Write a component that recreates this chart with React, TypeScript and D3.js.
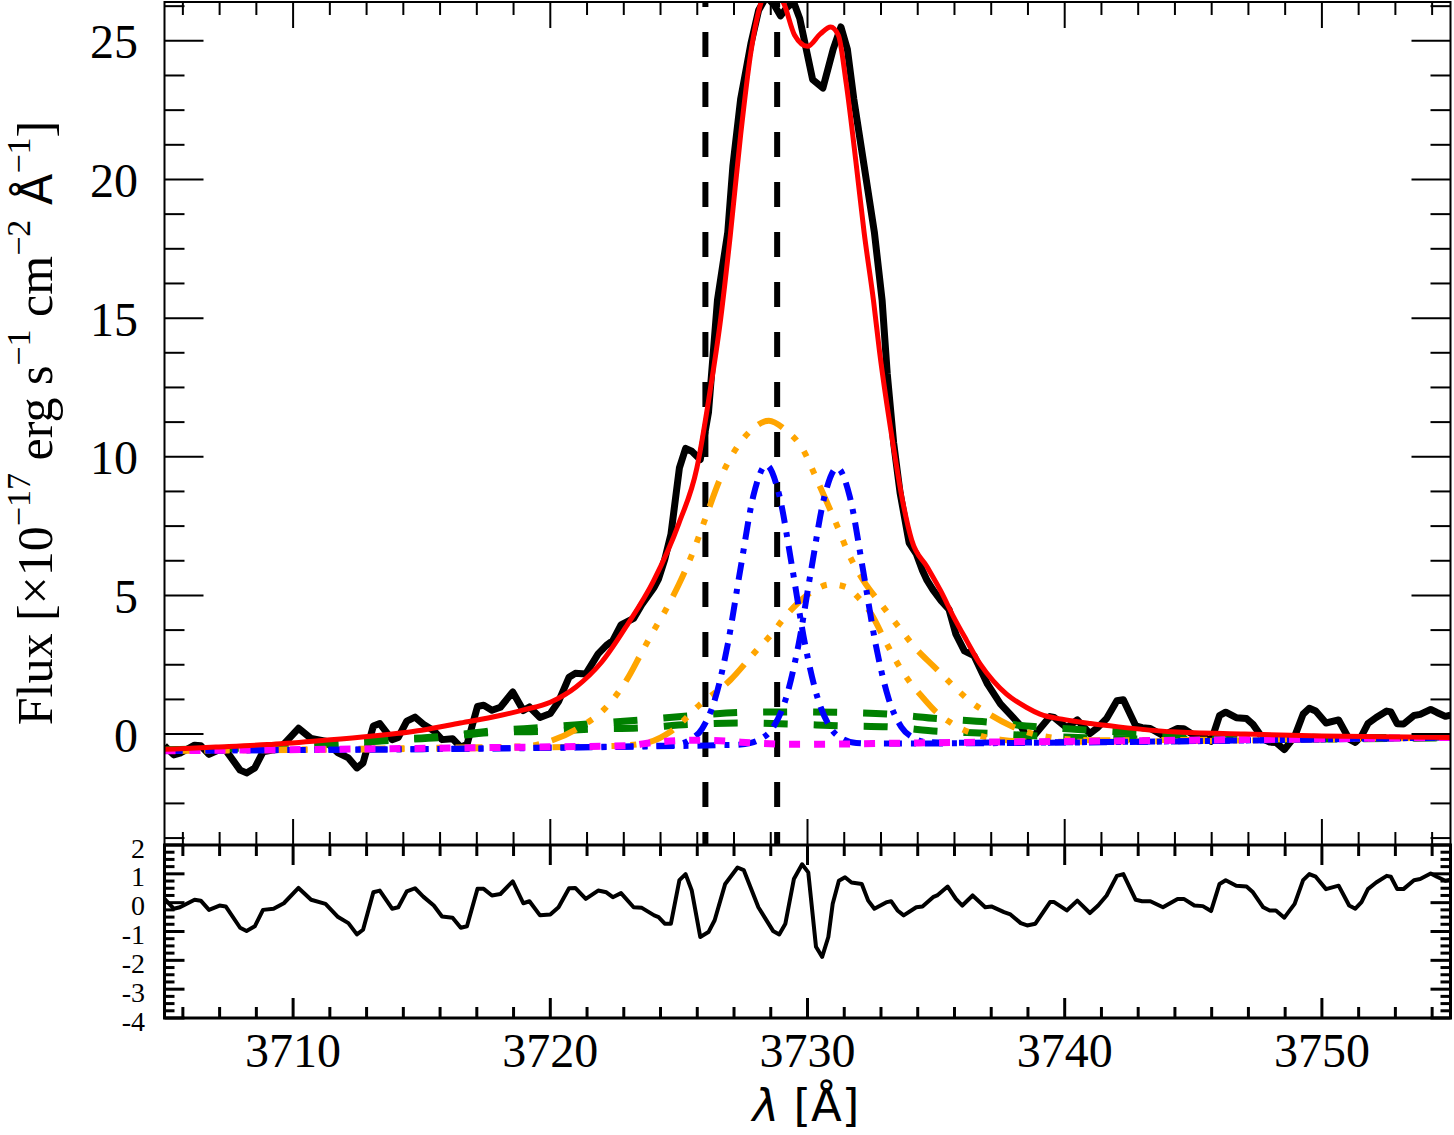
import * as d3 from "d3";

type Pt = [number, number];

// observed spectrum [wavelength (A), flux (1e-17 erg/s/cm2/A)]
const OBS: Pt[] = [
  [3705.0, -0.42], [3705.36, -0.75], [3705.6, -0.69], [3706.17, -0.4], [3706.41, -0.42],
  [3706.73, -0.73], [3707.14, -0.56], [3707.38, -0.58], [3707.94, -1.3], [3708.19, -1.4],
  [3708.51, -1.22], [3708.83, -0.64], [3709.24, -0.57], [3709.64, -0.36], [3710.21, 0.21],
  [3710.7, -0.16], [3711.26, -0.26], [3711.75, -0.68], [3712.15, -0.86], [3712.48, -1.22],
  [3712.72, -1.04], [3713.12, 0.29], [3713.37, 0.38], [3713.85, -0.2], [3714.09, -0.12],
  [3714.42, 0.47], [3714.74, 0.61], [3715.06, 0.36], [3715.47, 0.12], [3715.79, -0.2],
  [3716.2, -0.17], [3716.52, -0.47], [3716.76, -0.38], [3717.17, 1.0], [3717.41, 1.04],
  [3717.73, 0.86], [3718.06, 0.97], [3718.54, 1.52], [3718.95, 0.85], [3719.19, 0.98],
  [3719.6, 0.6], [3720.0, 0.74], [3720.32, 1.17], [3720.73, 2.05], [3720.97, 2.19],
  [3721.38, 2.17], [3721.86, 2.89], [3722.18, 3.2], [3722.43, 3.37], [3722.75, 3.94],
  [3723.24, 4.17], [3723.56, 4.67], [3724.04, 5.3], [3724.21, 5.6], [3724.45, 6.3],
  [3724.69, 7.2], [3725.02, 9.6], [3725.26, 10.3], [3725.5, 10.2], [3725.83, 9.9],
  [3726.15, 11.6], [3726.5, 15.65], [3726.9, 18.1], [3727.1, 20.5], [3727.4, 22.9],
  [3727.8, 24.9], [3728.1, 26.1], [3728.4, 26.6], [3728.7, 26.3], [3728.95, 25.9],
  [3729.2, 26.2], [3729.46, 26.4], [3729.7, 25.8], [3730.2, 23.6], [3730.6, 23.3],
  [3731.0, 24.7], [3731.3, 25.5], [3731.55, 24.7], [3731.8, 22.9], [3732.2, 20.5],
  [3732.6, 18.1], [3732.9, 15.65], [3733.1, 13.0], [3733.35, 10.5], [3733.6, 8.7],
  [3733.95, 6.9], [3734.23, 6.5], [3734.47, 5.9], [3734.65, 5.54], [3734.88, 5.2],
  [3735.2, 4.8], [3735.5, 4.5], [3735.77, 3.6], [3736.1, 3.0], [3736.47, 2.83],
  [3737.0, 1.8], [3737.5, 1.09], [3738.0, 0.59], [3738.29, 0.3], [3738.55, -0.13],
  [3738.86, 0.0], [3739.43, 0.63], [3739.59, 0.6], [3740.08, 0.23], [3740.49, 0.51],
  [3740.98, 0.02], [3741.3, 0.25], [3741.63, 0.56], [3742.03, 1.2], [3742.28, 1.24],
  [3742.76, 0.3], [3743.01, 0.23], [3743.33, 0.2], [3743.82, -0.05], [3744.39, 0.2],
  [3744.63, 0.19], [3745.04, -0.05], [3745.37, -0.08], [3745.69, -0.26], [3746.02, 0.67],
  [3746.26, 0.79], [3746.67, 0.59], [3747.07, 0.56], [3747.32, 0.35], [3747.72, -0.18],
  [3747.97, -0.29], [3748.21, -0.3], [3748.54, -0.56], [3748.94, -0.09], [3749.27, 0.72],
  [3749.51, 0.93], [3749.76, 0.83], [3750.16, 0.4], [3750.65, 0.51], [3751.06, -0.18],
  [3751.3, -0.3], [3751.54, -0.07], [3751.79, 0.38], [3752.11, 0.6], [3752.52, 0.83],
  [3752.68, 0.8], [3752.93, 0.37], [3753.17, 0.36], [3753.58, 0.67], [3753.82, 0.71],
  [3754.23, 0.89], [3754.47, 0.78], [3754.8, 0.64], [3755.0, 0.68],
];

// residuals shown in the lower panel
const RESID: Pt[] = [
  [3705.0, 0.13], [3705.36, -0.21], [3705.6, -0.16], [3706.17, 0.1], [3706.41, 0.07],
  [3706.73, -0.25], [3707.14, -0.1], [3707.38, -0.13], [3707.94, -0.87], [3708.19, -0.98],
  [3708.51, -0.82], [3708.83, -0.25], [3709.24, -0.21], [3709.64, -0.02], [3710.21, 0.51],
  [3710.7, 0.1], [3711.26, -0.04], [3711.75, -0.5], [3712.15, -0.71], [3712.48, -1.1],
  [3712.72, -0.94], [3713.12, 0.36], [3713.37, 0.42], [3713.85, -0.21], [3714.09, -0.16],
  [3714.42, 0.39], [3714.74, 0.5], [3715.06, 0.21], [3715.47, -0.1], [3715.79, -0.48],
  [3716.2, -0.52], [3716.52, -0.87], [3716.76, -0.82], [3717.17, 0.48], [3717.41, 0.48],
  [3717.73, 0.25], [3718.06, 0.3], [3718.54, 0.74], [3718.95, -0.02], [3719.19, 0.05],
  [3719.6, -0.44], [3720.0, -0.41], [3720.32, -0.16], [3720.73, 0.5], [3720.97, 0.51],
  [3721.38, 0.13], [3721.86, 0.42], [3722.18, 0.36], [3722.43, 0.19], [3722.75, 0.33],
  [3723.24, -0.16], [3723.56, -0.18], [3724.04, -0.44], [3724.21, -0.5], [3724.45, -0.73],
  [3724.69, -0.73], [3725.02, 0.78], [3725.26, 0.99], [3725.5, 0.42], [3725.83, -1.19],
  [3726.15, -1.02], [3726.39, -0.61], [3726.8, 0.65], [3727.28, 1.22], [3727.52, 1.13],
  [3728.09, -0.16], [3728.66, -0.98], [3728.9, -1.1], [3729.14, -0.73], [3729.47, 0.82],
  [3729.79, 1.33], [3730.03, 1.05], [3730.33, -1.53], [3730.57, -1.88], [3730.81, -1.19],
  [3730.98, -0.04], [3731.22, 0.76], [3731.46, 0.88], [3731.71, 0.7], [3732.11, 0.65],
  [3732.36, 0.07], [3732.6, -0.21], [3733.09, 0.02], [3733.25, 0.05], [3733.5, -0.27],
  [3733.74, -0.44], [3734.23, -0.16], [3734.47, -0.13], [3734.88, 0.19], [3735.04, 0.25],
  [3735.45, 0.56], [3735.77, 0.13], [3736.02, -0.1], [3736.42, 0.25], [3736.91, -0.16],
  [3737.15, -0.13], [3737.64, -0.33], [3737.89, -0.41], [3738.29, -0.71], [3738.54, -0.79],
  [3738.86, -0.73], [3739.43, 0.02], [3739.59, 0.02], [3740.08, -0.27], [3740.49, 0.07],
  [3740.98, -0.36], [3741.3, -0.1], [3741.63, 0.25], [3742.03, 0.93], [3742.28, 0.99],
  [3742.76, 0.1], [3743.01, 0.05], [3743.33, 0.05], [3743.82, -0.16], [3744.39, 0.13],
  [3744.63, 0.13], [3745.04, -0.1], [3745.37, -0.12], [3745.69, -0.29], [3746.02, 0.65],
  [3746.26, 0.78], [3746.67, 0.59], [3747.07, 0.56], [3747.32, 0.36], [3747.72, -0.16],
  [3747.97, -0.27], [3748.21, -0.27], [3748.54, -0.52], [3748.94, -0.04], [3749.27, 0.78],
  [3749.51, 0.99], [3749.76, 0.9], [3750.16, 0.47], [3750.65, 0.59], [3751.06, -0.1],
  [3751.3, -0.21], [3751.54, 0.02], [3751.79, 0.47], [3752.11, 0.7], [3752.52, 0.93],
  [3752.68, 0.9], [3752.93, 0.47], [3753.17, 0.47], [3753.58, 0.78], [3753.82, 0.82],
  [3754.23, 1.01], [3754.47, 0.9], [3754.8, 0.76], [3755.0, 0.8],
];

// total fit (red)
const MODEL: Pt[] = [
  [3705, -0.55], [3707, -0.47], [3709, -0.38], [3711, -0.24], [3713, -0.08], [3715, 0.14],
  [3716.5, 0.4], [3718, 0.66], [3719, 0.88], [3720, 1.15], [3721, 1.7], [3722, 2.6],
  [3723, 3.95], [3724, 5.5], [3725, 7.6], [3725.7, 9.6], [3726.2, 12.3], [3726.6, 14.8],
  [3727, 18.0], [3727.4, 21.6], [3727.8, 24.6], [3728.2, 26.4], [3728.6, 27.0],
  [3729.1, 26.3], [3729.5, 25.2], [3730, 24.8], [3730.5, 25.25], [3730.9, 25.5],
  [3731.2, 25.2], [3731.5, 23.5], [3731.9, 20.5], [3732.2, 18.1], [3732.57, 15.6],
  [3732.8, 13.8], [3733.3, 10.6], [3733.7, 8.4], [3734.05, 7.0], [3734.66, 6.02],
  [3735.17, 5.18], [3735.69, 4.21], [3736.19, 3.37], [3736.71, 2.53], [3737.22, 1.92],
  [3737.74, 1.44], [3738.52, 0.96], [3739.04, 0.72], [3740, 0.52], [3741, 0.38],
  [3742.1, 0.26], [3744.2, 0.08], [3747, 0.0], [3750, -0.07], [3755, -0.12],
];

// broad components (orange, dash-dot-dot-dot)
const BROAD_BLUE_LINE: Pt[] = [
  [3705, -0.6], [3715, -0.5], [3719, -0.44], [3720, -0.25], [3721.1, 0.22], [3722.1, 0.9],
  [3722.6, 1.45], [3723, 2.0], [3723.5, 2.85], [3724, 3.7], [3724.5, 4.5], [3725, 5.4],
  [3725.5, 6.45], [3726, 7.7], [3726.6, 9.2], [3727.3, 10.4], [3727.8, 10.95],
  [3728.5, 11.3], [3729.1, 11.0], [3729.8, 10.3], [3730.4, 9.1], [3731.2, 7.4],
  [3731.6, 6.5], [3732.2, 5.5], [3732.85, 4.7], [3733.6, 3.8], [3734.2, 3.1],
  [3734.9, 2.45], [3735.6, 1.8], [3736.3, 1.2], [3737.1, 0.7], [3737.9, 0.3],
  [3738.6, 0.05], [3739.5, -0.12], [3741, -0.22], [3755, -0.12],
];
const BROAD_RED_LINE: Pt[] = [
  [3705, -0.6], [3722.5, -0.43], [3723.8, -0.3], [3724.7, 0.1], [3725.8, 1.05],
  [3727, 1.95], [3728, 3.0], [3728.6, 3.6], [3729.1, 4.2], [3729.6, 4.7], [3730.2, 5.15],
  [3730.9, 5.4], [3731.5, 5.3], [3732, 4.9], [3732.5, 4.3], [3733, 3.4], [3733.5, 2.55],
  [3734, 1.85], [3734.5, 1.3], [3735, 0.8], [3735.5, 0.45], [3736, 0.18], [3736.5, 0.0],
  [3737.5, -0.2], [3739, -0.28], [3755, -0.12],
];

// narrow components (blue, dash-dot)
const NARROW_BLUE_LINE: Pt[] = [
  [3705, -0.6], [3724.4, -0.42], [3725.0, -0.37], [3725.4, -0.22], [3725.9, 0.19],
  [3726.4, 1.25], [3726.9, 3.24], [3727.4, 6.0], [3727.9, 8.61], [3728.4, 9.7],
  [3728.9, 8.62], [3729.4, 6.03], [3729.9, 3.26], [3730.4, 1.28], [3730.9, 0.22],
  [3731.4, -0.19], [3731.9, -0.32], [3732.6, -0.34], [3755, -0.12],
];
const NARROW_RED_LINE: Pt[] = [
  [3705, -0.6], [3727.2, -0.39], [3727.8, -0.32], [3728.15, -0.19], [3728.65, 0.22],
  [3729.15, 1.25], [3729.65, 3.22], [3730.15, 5.96], [3730.65, 8.53], [3731.15, 9.6],
  [3731.65, 8.54], [3732.15, 5.97], [3732.65, 3.24], [3733.15, 1.29], [3733.65, 0.25],
  [3734.15, -0.15], [3734.65, -0.29], [3735.4, -0.31], [3755, -0.12],
];

// very broad wings (green, dashed)
const WING_UPPER: Pt[] = [
  [3705, -0.57], [3708.5, -0.48], [3712, -0.32], [3713.9, -0.2], [3715.85, -0.08],
  [3717.8, 0.12], [3719.7, 0.24], [3721.55, 0.37], [3723.4, 0.5], [3725.45, 0.66],
  [3727.4, 0.78], [3729.35, 0.8], [3731.3, 0.78], [3733.1, 0.72], [3735.05, 0.56],
  [3737, 0.43], [3738.8, 0.27], [3740.8, 0.15], [3742.8, 0.04], [3746, -0.06],
  [3750, -0.12], [3755, -0.13],
];
const WING_LOWER: Pt[] = [
  [3705, -0.58], [3712, -0.34], [3713.9, -0.22], [3715.85, -0.12], [3717.8, 0.06],
  [3719.7, 0.1], [3721.55, 0.18], [3723.4, 0.22], [3725.45, 0.35], [3727.4, 0.4],
  [3729.35, 0.36], [3731.3, 0.3], [3733.15, 0.26], [3735.05, 0.1], [3737, 0.03],
  [3738.8, -0.06], [3740.8, -0.13], [3743, -0.18], [3747, -0.19], [3755, -0.13],
];

// continuum (magenta, dotted)
const CONTINUUM: Pt[] = [
  [3705, -0.6], [3720, -0.46], [3723, -0.42], [3724, -0.3], [3725.5, -0.22],
  [3726.8, -0.25], [3728, -0.33], [3729.5, -0.37], [3735, -0.31], [3745, -0.22],
  [3755, -0.12],
];

// [OII] rest wavelengths
const OII_REST = [3726.03, 3728.82];

const X_DOMAIN: [number, number] = [3705, 3755];
const X_TICKS = [3710, 3720, 3730, 3740, 3750];
const FLUX_TICKS = [0, 5, 10, 15, 20, 25];
const RES_TICKS = [2, 1, 0, -1, -2, -3, -4];

const LEFT = 164.5;
const RIGHT = 1450.5;
const TOP = 2;
const MID = 845;
const BOTTOM = 1018;

const SERIF = "'Liberation Serif', 'Times New Roman', serif";
const SANS = "'DejaVu Sans', sans-serif";

export default function App() {
  const x = d3.scaleLinear().domain(X_DOMAIN).range([LEFT, RIGHT]);
  const yFlux = d3.scaleLinear().domain([-4, 26.4]).range([MID, TOP]);
  const yRes = d3.scaleLinear().domain([-4, 2]).range([BOTTOM, MID]);

  const smooth = d3
    .line<Pt>()
    .x((d) => x(d[0]))
    .y((d) => yFlux(d[1]))
    .curve(d3.curveMonotoneX);
  const jagged = d3
    .line<Pt>()
    .x((d) => x(d[0]))
    .y((d) => yFlux(d[1]));
  const resLine = d3
    .line<Pt>()
    .x((d) => x(d[0]))
    .y((d) => yRes(d[1]));

  // 7 minor intervals per 10 A, as in the original plot
  const xMinor = d3
    .range(-3, 32)
    .filter((k) => k % 7 !== 0)
    .map((k) => 3710 + (k * 10) / 7)
    .filter((v) => v > X_DOMAIN[0] && v < X_DOMAIN[1]);
  const fluxMinor = d3
    .range(-3, 22)
    .filter((i) => i % 4 !== 0)
    .map((i) => i * 1.25);
  const resMinor = d3
    .range(-15, 8)
    .filter((i) => i % 4 !== 0)
    .map((i) => i * 0.25);

  const xTickLines = (vals: number[], yBase: number, dir: number, len: number, sw: number) =>
    vals.map((v, i) => (
      <line key={`${yBase}-${dir}-${i}`} x1={x(v)} x2={x(v)} y1={yBase} y2={yBase + dir * len}
        stroke="black" strokeWidth={sw} />
    ));
  const yTickLines = (vals: number[], scale: (v: number) => number, len: number, sw: number) =>
    vals.map((v, i) => (
      <g key={`${len}-${i}`}>
        <line x1={LEFT} x2={LEFT + len} y1={scale(v)} y2={scale(v)} stroke="black" strokeWidth={sw} />
        <line x1={RIGHT} x2={RIGHT - len} y1={scale(v)} y2={scale(v)} stroke="black" strokeWidth={sw} />
      </g>
    ));

  const supSize = 34;
  const supShift = 22;

  return (
    <svg width={1454} height={1135} style={{ position: "absolute", left: 0, top: 0 }}
      fontFamily={SERIF}>
      <rect width={1454} height={1135} fill="white" />
      <defs>
        <clipPath id="main-clip">
          <rect x={LEFT} y={TOP} width={RIGHT - LEFT} height={MID - TOP} />
        </clipPath>
        <clipPath id="res-clip">
          <rect x={LEFT} y={MID} width={RIGHT - LEFT} height={BOTTOM - MID} />
        </clipPath>
      </defs>

      {/* upper panel: spectrum and fit */}
      <g clipPath="url(#main-clip)" fill="none">
        <path d={jagged(OBS) ?? ""} stroke="black" strokeWidth={7} strokeLinejoin="round" />
        {OII_REST.map((w) => (
          <line key={w} x1={x(w)} x2={x(w)} y1={TOP} y2={MID} stroke="black" strokeWidth={6}
            strokeDasharray="25 25" strokeDashoffset={20} />
        ))}
        <path d={smooth(WING_UPPER) ?? ""} stroke="#008000" strokeWidth={7} strokeDasharray="24 26" />
        <path d={smooth(WING_LOWER) ?? ""} stroke="#008000" strokeWidth={7} strokeDasharray="24 26" />
        <path d={smooth(BROAD_BLUE_LINE) ?? ""} stroke="#ffa500" strokeWidth={6}
          strokeDasharray="27 13 6 13 6 13 6 13" />
        <path d={smooth(BROAD_RED_LINE) ?? ""} stroke="#ffa500" strokeWidth={6}
          strokeDasharray="27 13 6 13 6 13 6 13" />
        <path d={smooth(NARROW_BLUE_LINE) ?? ""} stroke="#0000ff" strokeWidth={6}
          strokeDasharray="18 9 5 9" />
        <path d={smooth(NARROW_RED_LINE) ?? ""} stroke="#0000ff" strokeWidth={6}
          strokeDasharray="18 9 5 9" />
        <path d={smooth(CONTINUUM) ?? ""} stroke="#ff00ff" strokeWidth={7} strokeDasharray="11 14" />
        <path d={smooth(MODEL) ?? ""} stroke="#ff0000" strokeWidth={5} strokeLinejoin="round" />
      </g>
      <rect x={LEFT} y={TOP} width={RIGHT - LEFT} height={MID - TOP} fill="none" stroke="black"
        strokeWidth={2} />
      {xTickLines(X_TICKS, TOP, 1, 26, 2)}
      {xTickLines(xMinor, TOP, 1, 13, 2)}
      {xTickLines(X_TICKS, MID, -1, 26, 2)}
      {xTickLines(xMinor, MID, -1, 13, 2)}
      {yTickLines(FLUX_TICKS, yFlux, 39, 2)}
      {yTickLines(fluxMinor, yFlux, 20, 2)}
      {FLUX_TICKS.map((v) => (
        <text key={v} x={138} y={yFlux(v) + 1} textAnchor="end" dominantBaseline="central"
          fontSize={48}>
          {v}
        </text>
      ))}

      {/* lower panel: residuals */}
      <g clipPath="url(#res-clip)">
        <path d={resLine(RESID) ?? ""} fill="none" stroke="black" strokeWidth={4}
          strokeLinejoin="round" />
      </g>
      <rect x={LEFT} y={MID} width={RIGHT - LEFT} height={BOTTOM - MID} fill="none" stroke="black"
        strokeWidth={3} />
      {xTickLines(X_TICKS, MID, 1, 20, 3)}
      {xTickLines(xMinor, MID, 1, 11, 3)}
      {xTickLines(X_TICKS, BOTTOM, -1, 20, 3)}
      {xTickLines(xMinor, BOTTOM, -1, 11, 3)}
      {yTickLines(RES_TICKS, yRes, 20, 3)}
      {yTickLines(resMinor, yRes, 10, 3)}
      {RES_TICKS.map((v) => (
        <text key={v} x={145} y={yRes(v) + 3} textAnchor="end" dominantBaseline="central"
          fontSize={28}>
          {v}
        </text>
      ))}

      {/* x axis labels */}
      {X_TICKS.map((v) => (
        <text key={v} x={x(v)} y={1067} textAnchor="middle" fontSize={48}>
          {v}
        </text>
      ))}
      <text x={806} y={1121} textAnchor="middle" fontSize={45} fontFamily={SANS}>
        <tspan fontStyle="italic">λ</tspan> [Å]
      </text>

      {/* y axis title */}
      <text transform="translate(52,423) rotate(-90)" textAnchor="middle" fontSize={50}>
        Flux [×10
        <tspan fontSize={supSize} dy={-supShift}>−17</tspan>
        <tspan dy={supShift}> erg s</tspan>
        <tspan fontSize={supSize} dy={-supShift}>−1</tspan>
        <tspan dy={supShift}> cm</tspan>
        <tspan fontSize={supSize} dy={-supShift}>−2</tspan>
        <tspan dy={supShift} fontFamily={SANS} fontSize={46}> Å</tspan>
        <tspan fontSize={supSize} dy={-supShift}>−1</tspan>
        <tspan dy={supShift}>]</tspan>
      </text>
    </svg>
  );
}
